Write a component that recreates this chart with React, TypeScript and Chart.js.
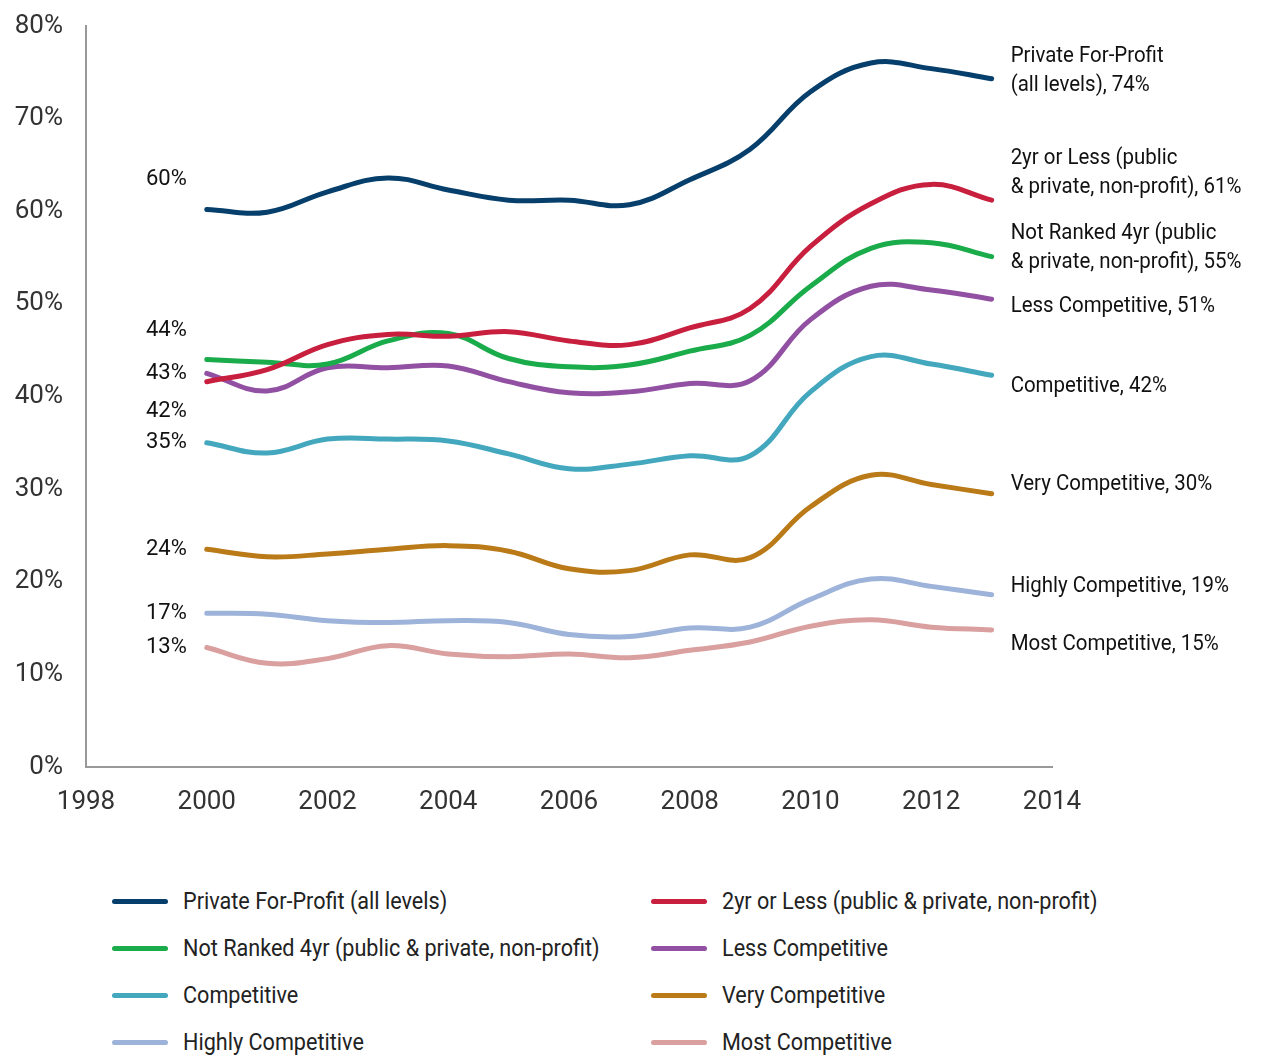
import React, { useEffect, useRef } from "react";
import { Chart, registerables } from "chart.js";

Chart.register(...registerables);

const FONT = "Roboto, 'Liberation Sans', sans-serif";
const LABEL_SQUEEZE = 0.93;
const LEGEND_SQUEEZE = 0.9;

const years = [2000, 2001, 2002, 2003, 2004, 2005, 2006, 2007, 2008, 2009, 2010, 2011, 2012, 2013];

const seriesNames = [
  "Private For-Profit (all levels)",
  "2yr or Less (public & private, non-profit)",
  "Not Ranked 4yr (public & private, non-profit)",
  "Less Competitive",
  "Competitive",
  "Very Competitive",
  "Highly Competitive",
  "Most Competitive",
];

const privateForProfit = [60.2, 59.9, 62.1, 63.6, 62.3, 61.2, 61.2, 60.7, 63.4, 66.7, 72.9, 76.0, 75.4, 74.3];
const twoYrOrLess = [41.6, 42.9, 45.6, 46.7, 46.5, 47.0, 46.0, 45.6, 47.4, 49.5, 56.2, 60.8, 62.9, 61.2];
const notRanked4yr = [44.0, 43.7, 43.5, 46.0, 46.8, 44.1, 43.2, 43.4, 44.9, 46.6, 51.9, 56.0, 56.6, 55.1];
const lessCompetitive = [42.5, 40.6, 43.1, 43.1, 43.3, 41.6, 40.4, 40.5, 41.4, 41.7, 48.3, 51.9, 51.5, 50.5];
const competitive = [35.0, 33.9, 35.4, 35.4, 35.2, 33.8, 32.2, 32.7, 33.6, 33.6, 40.5, 44.3, 43.5, 42.3];
const veryCompetitive = [23.5, 22.7, 23.0, 23.5, 23.9, 23.3, 21.4, 21.2, 22.9, 22.6, 28.1, 31.5, 30.5, 29.5];
const highlyCompetitive = [16.6, 16.5, 15.8, 15.6, 15.8, 15.6, 14.3, 14.1, 15.0, 15.1, 18.1, 20.3, 19.5, 18.6];
const mostCompetitive = [12.9, 11.2, 11.7, 13.1, 12.2, 11.9, 12.2, 11.8, 12.6, 13.5, 15.2, 15.9, 15.1, 14.8];

const seriesValues = [
  privateForProfit, twoYrOrLess, notRanked4yr, lessCompetitive,
  competitive, veryCompetitive, highlyCompetitive, mostCompetitive,
];

const colors = ["#063f6b", "#c81f3e", "#1aab4b", "#9250a2", "#43a7be", "#b97a17", "#9db3da", "#d9a09f"];

const xTicks = [1998, 2000, 2002, 2004, 2006, 2008, 2010, 2012, 2014];
const yTicks = [0, 10, 20, 30, 40, 50, 60, 70, 80];

// left start labels: text and anchor value (y in %)
const startLabels = ["60%", "44%", "43%", "42%", "35%", "24%", "17%", "13%"];
const startLabelAnchors = [63.4, 47.1, 42.5, 38.4, 35.0, 23.5, 16.6, 12.9];

// right end labels: lines and anchor value (y in %)
const endLabels = [
  ["Private For-Profit", "(all levels), 74%"],
  ["2yr or Less (public", "& private, non-profit), 61%"],
  ["Not Ranked 4yr (public", "& private, non-profit), 55%"],
  ["Less Competitive, 51%"],
  ["Competitive, 42%"],
  ["Very Competitive, 30%"],
  ["Highly Competitive, 19%"],
  ["Most Competitive, 15%"],
];
const endLabelAnchors = [75.1, 64.1, 56.0, 49.7, 41.1, 30.5, 19.5, 13.2];

function drawSqueezed(ctx: any, text: string, x: number, y: number, k: number) {
  ctx.save();
  ctx.translate(x, y);
  ctx.scale(k, 1);
  ctx.fillText(text, 0, 0);
  ctx.restore();
}

const labelPlugin = {
  id: "lineLabels",
  afterDatasetsDraw(chart: any) {
    const { ctx, scales } = chart;
    const xs = scales.x;
    const ys = scales.y;
    ctx.save();
    ctx.fillStyle = "#111";
    ctx.textBaseline = "middle";
    ctx.font = `22px ${FONT}`;
    ctx.textAlign = "right";
    startLabels.forEach((t, i) => {
      drawSqueezed(ctx, t, xs.getPixelForValue(years[0]) - 20, ys.getPixelForValue(startLabelAnchors[i]), 1);
    });
    ctx.textAlign = "left";
    const lh = 29;
    endLabels.forEach((lines, i) => {
      const cy = ys.getPixelForValue(endLabelAnchors[i]);
      const x = xs.getPixelForValue(years[years.length - 1]) + 19;
      lines.forEach((ln, j) => {
        drawSqueezed(ctx, ln, x, cy + (j - (lines.length - 1) / 2) * lh, LABEL_SQUEEZE);
      });
    });
    ctx.restore();
  },
};

function ChartView() {
  const ref = useRef<HTMLCanvasElement>(null);
  useEffect(() => {
    if (!ref.current) return;
    const chart = new Chart(ref.current, {
      type: "line",
      data: {
        datasets: seriesNames.map((name, i) => ({
          label: name,
          data: years.map((y, k) => ({ x: y, y: seriesValues[i][k] })),
          borderColor: colors[i],
          backgroundColor: colors[i],
          borderWidth: 5,
          pointRadius: 0,
          tension: 0.4,
          borderCapStyle: "round",
          borderJoinStyle: "round",
          fill: false,
        })),
      },
      options: {
        animation: false,
        responsive: false,
        maintainAspectRatio: false,
        layout: { padding: { top: 18, right: 206, bottom: 0, left: 0 } },
        plugins: { legend: { display: false }, tooltip: { enabled: false } },
        scales: {
          x: {
            type: "linear",
            min: 1998,
            max: 2014,
            afterBuildTicks: (s: any) => { s.ticks = xTicks.map((v) => ({ value: v })); },
            afterFit: (s: any) => { s.height = 91; s.paddingLeft = 0; s.paddingRight = 0; },
            grid: { display: false, drawOnChartArea: false, drawTicks: true, tickLength: 6, tickColor: "#999", tickWidth: 2 },
            border: { display: true, color: "#999", width: 2 },
            ticks: {
              color: "#333",
              font: { family: FONT, size: 26 },
              padding: 14,
              maxRotation: 0,
              callback: (v: any) => String(v),
            },
          },
          y: {
            min: 0,
            max: 80,
            afterBuildTicks: (s: any) => { s.ticks = yTicks.map((v) => ({ value: v })); },
            afterFit: (s: any) => { s.width = 78; s.paddingTop = 0; s.paddingBottom = 0; },
            grid: { display: false, drawOnChartArea: false, drawTicks: true, tickLength: 6, tickColor: "#999", tickWidth: 2 },
            border: { display: true, color: "#999", width: 2 },
            ticks: {
              color: "#333",
              font: { family: FONT, size: 26 },
              padding: 17,
              callback: (v: any) => `${v}%`,
            },
          },
        },
      },
      plugins: [labelPlugin],
    } as any);
    return () => chart.destroy();
  }, []);
  return <canvas ref={ref} width={1250} height={850} style={{ position: "absolute", left: 0, top: 0 }} />;
}

const legendRows = [
  [0, 1],
  [2, 3],
  [4, 5],
  [6, 7],
];

export default function App() {
  return (
    <div style={{ position: "relative", width: 1250, height: 1047, fontFamily: FONT }}>
      <ChartView />
      {legendRows.map((row, r) =>
        row.map((idx, c) => (
          <div
            key={idx}
            style={{
              position: "absolute",
              left: c === 0 ? 104 : 643,
              top: 878 + r * 47,
              height: 30,
              display: "flex",
              alignItems: "center",
              whiteSpace: "nowrap",
            }}
          >
            <span
              style={{
                display: "inline-block",
                width: 56,
                height: 5,
                borderRadius: 3,
                background: colors[idx],
                marginRight: 15,
              }}
            />
            <span
              style={{
                fontSize: 24,
                color: "#222",
                display: "inline-block",
                transform: `scaleX(${LEGEND_SQUEEZE})`,
                transformOrigin: "left center",
              }}
            >
              {seriesNames[idx]}
            </span>
          </div>
        ))
      )}
    </div>
  );
}
